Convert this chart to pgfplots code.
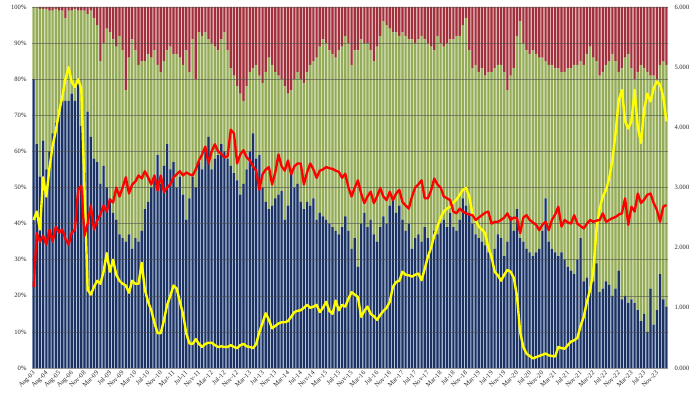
\documentclass[border=0pt]{standalone}
\usepackage{pgfplots}
\pgfplotsset{compat=1.18}
\usepackage{pgfplotstable}
\usepackage{fontspec}
\setmainfont{Liberation Serif}
\definecolor{bnavy}{HTML}{1E3262}
\definecolor{blite}{HTML}{B4C6E0}
\definecolor{gfill}{HTML}{94AB58}
\definecolor{glite}{HTML}{DCE5C4}
\definecolor{rfill}{HTML}{A0303B}
\definecolor{rlite}{HTML}{EBC3C6}
\definecolor{gridc}{HTML}{4A4A4A}
\definecolor{ylw}{HTML}{FFFF00}
\definecolor{rln}{HTML}{FF0000}

\pgfplotstableread{
i b r y l
0 80 0 2.46 1.35
1 62 0 2.6 2.24
2 53 0.5 2.3 2.1
3 63 0.5 3.17 2.2
4 55 0.5 2.85 2.05
5 60 1 3.33 2.3
6 65 1 3.7 2.1
7 68 0.5 3.95 2.35
8 71 1 4.25 2.25
9 74 1 4.5 2.3
10 74 3 4.8 2.15
11 74 1 5.0 2.05
12 76 1 4.75 2.25
13 74 0.5 4.67 2.3
14 80 1 4.8 2.96
15 67 1 4.64 3.03
16 54 1 3.0 2.2
17 71 2 1.3 2.4
18 64 1 1.22 2.7
19 58 3 1.35 2.3
20 57 5 1.45 2.45
21 51 15 1.4 2.55
22 56 10 1.6 2.7
23 50 6 1.91 2.6
24 47 7 1.6 2.8
25 43 9 1.8 2.75
26 41 11 1.55 3.0
27 37 8 1.45 2.85
28 36 12 1.4 3.0
29 35 23 1.37 3.17
30 37 14 1.25 2.9
31 33 9 1.45 3.05
32 36 12 1.4 3.1
33 35 16 1.4 3.2
34 38 15 1.75 3.15
35 44 15 1.3 3.27
36 46 13 1.1 3.17
37 50 14 0.96 3.05
38 52 12 0.75 3.2
39 59 16 0.58 2.95
40 51 18 0.58 3.2
41 56 15 0.8 2.92
42 62 12 1.05 3.0
43 55 11 1.2 3.05
44 57 13 1.37 3.17
45 50 13 1.32 3.22
46 53 14 1.1 3.27
47 48 16 0.9 3.2
48 41 12 0.58 3.25
49 47 18 0.41 3.22
50 53 9 0.4 3.2
51 50 20 0.48 3.3
52 57 7 0.4 3.45
53 55 8 0.35 3.55
54 60 7 0.4 3.68
55 64 9 0.42 3.4
56 55 10 0.42 3.6
57 58 11 0.38 3.72
58 59 12 0.35 3.6
59 62 9 0.36 3.56
60 60 7 0.35 3.5
61 58 12 0.35 3.52
62 56 17 0.38 3.96
63 54 19 0.35 3.9
64 52 22 0.33 3.4
65 48 24 0.38 3.55
66 51 26 0.4 3.62
67 55 22 0.36 3.5
68 60 18 0.35 3.45
69 65 17 0.33 3.35
70 58 16 0.4 3.28
71 59 19 0.6 2.96
72 50 21 0.75 3.22
73 46 18 0.91 3.3
74 44 14 0.8 3.34
75 45 16 0.66 3.05
76 47 18 0.7 3.25
77 48 19 0.74 3.55
78 49 20 0.76 3.35
79 41 22 0.76 3.28
80 45 24 0.78 3.45
81 54 23 0.85 3.22
82 50 20 0.93 3.35
83 51 18 0.95 3.4
84 46 20 0.96 3.4
85 44 21 1.0 3.05
86 46 18 1.05 3.25
87 45 16 1.0 3.4
88 47 15 1.02 3.3
89 41 14 1.05 3.16
90 43 11 0.93 3.28
91 42 9 1.0 3.3
92 41 10 1.1 3.34
93 40 12 0.95 3.32
94 39 13 0.9 3.31
95 38 14 1.12 3.28
96 37 12 0.96 3.26
97 39 11 1.05 3.16
98 42 8 1.02 3.23
99 38 10 1.15 3.0
100 33 16 1.26 2.85
101 36 12 1.22 3.0
102 28 12 1.18 3.12
103 40 9 0.85 2.9
104 43 10 0.95 2.74
105 39 10 1.02 2.85
106 41 12 0.9 2.93
107 37 15 0.86 2.74
108 35 11 0.8 2.85
109 39 8 0.88 2.99
110 42 4 0.95 2.85
111 40 5 1.0 2.79
112 45 6 1.1 2.93
113 47 7 1.35 2.79
114 43 7 1.43 2.9
115 45 8 1.45 2.96
116 41 7 1.6 2.76
117 38 8 1.55 2.7
118 40 9 1.54 2.65
119 33 9 1.52 2.85
120 36 10 1.55 3.0
121 37 9 1.57 3.05
122 35 8 1.46 3.12
123 39 9 1.65 2.82
124 36 10 1.85 2.82
125 34 11 2.0 2.95
126 38 12 2.2 3.15
127 37 8 2.35 3.05
128 40 10 2.5 3.0
129 41 11 2.6 2.85
130 39 10 2.65 2.82
131 43 9 2.68 2.79
132 39 9 2.75 2.6
133 38 8 2.8 2.57
134 41 8 2.88 2.65
135 47 5 2.96 2.6
136 45 3 2.99 2.57
137 43 12 2.85 2.55
138 40 17 2.57 2.54
139 37 16 2.45 2.46
140 36 18 2.35 2.5
141 35 17 2.3 2.54
142 34 19 2.24 2.58
143 32 18 2.0 2.6
144 30 18 1.85 2.4
145 33 17 1.6 2.43
146 37 16 1.54 2.43
147 36 16 1.45 2.46
148 31 18 1.55 2.5
149 35 23 1.63 2.57
150 42 19 1.6 2.46
151 38 17 1.5 2.5
152 44 8 1.2 2.49
153 36 4 0.6 2.24
154 35 10 0.35 2.5
155 33 12 0.24 2.54
156 32 13 0.2 2.46
157 31 12 0.16 2.42
158 32 13 0.18 2.38
159 33 14 0.2 2.29
160 38 14 0.22 2.38
161 47 15 0.24 2.43
162 35 16 0.21 2.29
163 33 16 0.2 2.46
164 32 17 0.19 2.55
165 31 17 0.35 2.68
166 32 18 0.33 2.35
167 30 18 0.32 2.46
168 28 17 0.38 2.42
169 27 17 0.44 2.4
170 26 16 0.46 2.54
171 30 16 0.5 2.4
172 36 15 0.7 2.36
173 24 16 0.85 2.32
174 25 13 1.1 2.4
175 22 11 1.3 2.46
176 24 14 1.6 2.43
177 29 15 2.3 2.45
178 21 19 2.65 2.46
179 22 18 2.85 2.57
180 24 16 2.96 2.43
181 23 15 3.15 2.46
182 20 13 3.45 2.49
183 22 15 3.9 2.51
184 27 18 4.45 2.55
185 19 17 4.62 2.57
186 20 14 4.1 2.82
187 18 13 3.98 2.38
188 19 17 4.1 2.68
189 18 20 4.62 2.6
190 16 18 4.0 2.9
191 13 16 3.74 2.74
192 15 17 4.3 2.8
193 10 18 4.56 2.88
194 22 19 4.43 2.9
195 12 19 4.65 2.74
196 16 20 4.76 2.63
197 26 16 4.71 2.43
198 19 15 4.51 2.68
199 17 16 4.1 2.71
}\data

\pgfplotsset{
  base/.style={
    at={(0,0)}, anchor=south west,
    scale only axis, width=636bp, height=361bp,
    xmin=-0.5, xmax=199.5,
    major tick length=0pt,
    axis line style={draw=none},
  },
  lab/.style={font=\fontsize{6.6}{7.5}\selectfont, text=black!85},
}

\begin{document}
\begin{tikzpicture}
\useasboundingbox (-32bp,-26bp) rectangle (668bp,368bp);
% light backdrop (gaps between bars)
\begin{axis}[base, ymin=0, ymax=100, ybar stacked, bar width=1,
  xtick=\empty, ytick=\empty]
\addplot[fill=blite, draw=none] table[x=i, y=b] {\data};
\addplot[fill=glite, draw=none] table[x=i, y expr=100-\thisrow{b}-\thisrow{r}] {\data};
\addplot[fill=rlite, draw=none] table[x=i, y=r] {\data};
\end{axis}
% main bars
\begin{axis}[base, ymin=0, ymax=100, ybar stacked, bar width=0.66,
  axis on top,
  ytick={0,10,...,100},
  yticklabels={0\%,10\%,20\%,30\%,40\%,50\%,60\%,70\%,80\%,90\%,100\%},
  ymajorgrids, grid style={gridc, line width=0.5bp, opacity=0.55},
  yticklabel style={lab, xshift=-2bp},
  xtick={0,4,...,196},
  xticklabels={Aug-03,Aug-04,Aug-05,Aug-06,Nov-08,Mar-09,Jul-09,Nov-09,Mar-10,Jul-10,Nov-10,Mar-11,Jul-11,Nov-11,Mar-12,Jul-12,Nov-12,Mar-13,Jul-13,Nov-13,Mar-14,Jul-14,Nov-14,Mar-15,Jul-15,Nov-15,Mar-16,Jul-16,Nov-16,Mar-17,Jul-17,Nov-17,Mar-18,Jul-18,Nov-18,Mar-19,Jul-19,Nov-19,Mar-20,Jul-20,Nov-20,Mar-21,Jul-21,Nov-21,Mar-22,Jul-22,Nov-22,Mar-23,Jul-23,Nov-23},
  xticklabel style={lab, rotate=45, anchor=north east, inner sep=0.5pt, xshift=-2bp},
]
\addplot[fill=bnavy, draw=none] table[x=i, y=b] {\data};
\addplot[fill=gfill, draw=none] table[x=i, y expr=100-\thisrow{b}-\thisrow{r}] {\data};
\addplot[fill=rfill, draw=none] table[x=i, y=r] {\data};
\end{axis}
% lines on the secondary axis
\begin{axis}[base, ymin=0, ymax=6,
  axis y line*=right, axis x line=none,
  ytick={0,1,...,6},
  yticklabels={0.000,1.000,2.000,3.000,4.000,5.000,6.000},
  yticklabel style={lab, xshift=3bp},
]
\addplot[ylw, line width=2.4bp, line join=round] table[x=i, y=y] {\data};
\addplot[rln, line width=2.3bp, line join=round] table[x=i, y=l] {\data};
\end{axis}
\end{tikzpicture}
\end{document}
